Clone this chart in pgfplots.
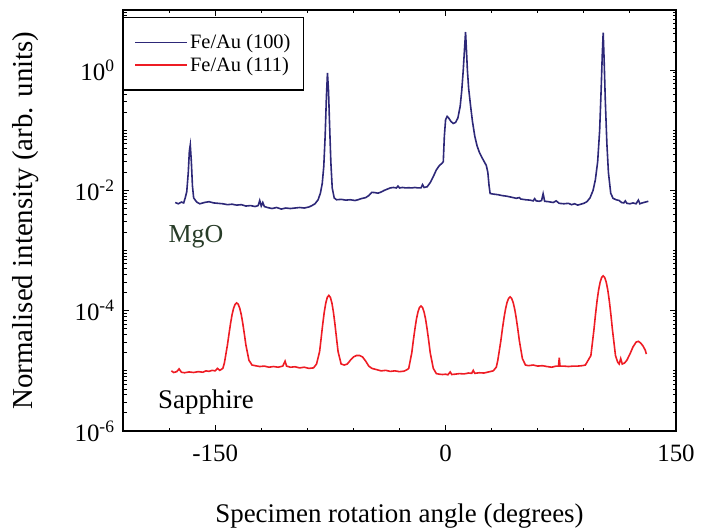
\documentclass[border=0pt]{standalone}
\usepackage{fontspec}
\setmainfont{Liberation Serif}
\usepackage{pgfplots}
\pgfplotsset{compat=1.18}
\definecolor{navyline}{RGB}{45,40,120}
\definecolor{redline}{RGB}{238,28,36}
\definecolor{mgogreen}{RGB}{40,60,40}

\begin{document}
\begin{tikzpicture}
\useasboundingbox (0,0) rectangle (716bp,531bp);
\begin{axis}[
  at={(123bp,100bp)}, anchor=south west,
  width=553bp, height=421bp, scale only axis,
  xmin=-210, xmax=150, ymin=1e-6, ymax=10, ymode=log,
  xtick={-150,0,150}, xticklabels={-150,0,150},
  minor xtick={-180,-120,-90,-60,-30,30,60,90,120},
  ytick={1e-6,1e-4,1e-2,1},
  yticklabels={10\textsuperscript{-6},10\textsuperscript{-4},10\textsuperscript{-2},10\textsuperscript{0}},
  minor ytick={2e-6,3e-6,4e-6,5e-6,6e-6,7e-6,8e-6,9e-6,1e-5,2e-5,3e-5,4e-5,5e-5,6e-5,7e-5,8e-5,9e-5,
    2e-4,3e-4,4e-4,5e-4,6e-4,7e-4,8e-4,9e-4,1e-3,2e-3,3e-3,4e-3,5e-3,6e-3,7e-3,8e-3,9e-3,
    2e-2,3e-2,4e-2,5e-2,6e-2,7e-2,8e-2,9e-2,1e-1,2e-1,3e-1,4e-1,5e-1,6e-1,7e-1,8e-1,9e-1,
    2,3,4,5,6,7,8,9},
  tick label style={font=\fontsize{25}{30}\selectfont},
  xticklabel style={yshift=-10bp},
  yticklabel style={xshift=-5bp},
  major tick length=6bp, minor tick length=3.5bp,
  tick style={line width=0.9bp, black},
  axis line style={line width=1.5bp},
  xlabel={Specimen rotation angle (degrees)},
  ylabel={Normalised intensity (arb. units)},
  xlabel style={font=\fontsize{27}{32}\selectfont, at={(axis description cs:0.5,0)}, anchor=center, yshift=-85bp},
  ylabel style={font=\fontsize{29}{34}\selectfont, at={(axis description cs:-0.177,0.5)}, anchor=center},
  legend style={at={(0,0.983)}, anchor=north west, draw=black, line width=1.2bp,
    font=\fontsize{20.5}{24}\selectfont, inner xsep=11bp, inner ysep=15bp, row sep=3bp,
    cells={anchor=west}},
  legend image code/.code={\draw[#1, line width=1.5bp] (0bp,0.3bp) -- (52bp,0.3bp);},
  /tikz/every even column/.append style={column sep=11bp},
]
\addplot[navyline, line width=1.6bp] coordinates {
(-176,6.3e-3) (-174,6.0e-3) (-172,6.4e-3) (-170.5,6.2e-3) (-169.5,7.5e-3) (-168.5,9.5e-3) (-167.5,2.0e-2) (-166.8,4.5e-2) (-166.2,5.7e-2) (-165.5,3.0e-2) (-164.8,1.2e-2) (-164,7.5e-3) (-162,6.4e-3) (-160,6.0e-3) (-157,6.3e-3) (-154,6.5e-3) (-151,6.2e-3) (-148,6.1e-3) (-145,6.0e-3) (-142,5.8e-3) (-139,5.9e-3) (-136,5.7e-3) (-133,5.8e-3) (-130,5.5e-3) (-127,5.6e-3) (-124,5.4e-3) (-122,5.6e-3) (-121,6.8e-3) (-120,5.5e-3) (-119,6.3e-3) (-118,5.4e-3) (-116,5.2e-3) (-113,5.0e-3) (-110,5.2e-3) (-107,4.9e-3) (-104,5.1e-3) (-101,5.0e-3) (-98,5.1e-3) (-95,5.2e-3) (-92,5.1e-3) (-89,5.3e-3) (-87,5.6e-3) (-85,6.0e-3) (-83,7.0e-3) (-81.5,9e-3) (-80.3,1.3e-2) (-79.3,2.5e-2) (-78.4,8e-2) (-77.6,0.35) (-76.9,0.9) (-76.2,0.45) (-75.5,0.12) (-74.7,0.03) (-73.8,1.1e-2) (-72.5,7.5e-3) (-71,7.0e-3) (-68,7.1e-3) (-65,6.9e-3) (-62,7.0e-3) (-59,6.8e-3) (-57,7.0e-3) (-55,7.3e-3) (-52,7.6e-3) (-50,8.2e-3) (-48,9.3e-3) (-46,9.2e-3) (-44,9.0e-3) (-42,9.4e-3) (-40,1.0e-2) (-38,1.05e-2) (-36,1.1e-2) (-34,1.12e-2) (-32,1.1e-2) (-31,1.18e-2) (-30,1.1e-2) (-28,1.12e-2) (-26,1.1e-2) (-24,1.11e-2) (-22,1.1e-2) (-20,1.12e-2) (-18,1.1e-2) (-16,1.1e-2) (-15,1.25e-2) (-14,1.12e-2) (-12,1.15e-2) (-10,1.35e-2) (-8,1.7e-2) (-6,2.2e-2) (-4,2.6e-2) (-2.5,2.8e-2) (-1.5,3.0e-2) (-0.8,0.08) (0,0.15) (1,0.17) (2,0.16) (3.5,0.14) (5,0.13) (6.5,0.135) (8,0.16) (9.5,0.25) (10.5,0.45) (11.5,1.0) (12.3,2.2) (13,4.3) (13.5,2.4) (14.2,1.0) (15,0.5) (16.3,0.25) (17.5,0.14) (19,0.08) (20.5,0.055) (22,0.043) (24,0.034) (25.5,0.029) (26.5,0.026) (27.5,0.02) (28.3,0.012) (29,8.9e-3) (31,8.7e-3) (34,8.5e-3) (37,8.2e-3) (40,8.0e-3) (43,7.7e-3) (46,7.4e-3) (48,7.6e-3) (49,7.2e-3) (52,7.0e-3) (55,6.9e-3) (57,6.7e-3) (58,7.3e-3) (59,6.7e-3) (61,6.6e-3) (62.5,6.8e-3) (63.5,8.8e-3) (64.5,6.6e-3) (67,6.5e-3) (70,6.3e-3) (72,6.7e-3) (74,6.1e-3) (77,6.0e-3) (80,6.1e-3) (82,5.8e-3) (84,6.0e-3) (86,5.7e-3) (88,5.9e-3) (90,6.1e-3) (92,6.5e-3) (94,7.5e-3) (96,1.0e-2) (97.5,1.5e-2) (99,3e-2) (100.3,0.1) (101.3,0.5) (102,1.8) (102.6,4.2) (103.2,1.5) (104,0.3) (105,0.06) (106,0.02) (107.5,9e-3) (109,7.4e-3) (111,7.0e-3) (113,6.8e-3) (114.5,6.3e-3) (116,6.2e-3) (117,6.7e-3) (118,6.1e-3) (120,6.0e-3) (122,6.2e-3) (124,6.0e-3) (125.5,6.9e-3) (126.5,6.0e-3) (128,6.2e-3) (130,6.4e-3) (132,6.6e-3)
};
\addlegendentry{Fe/Au (100)}
\addplot[redline, line width=1.6bp] coordinates {
(-178.5,1.0e-5) (-177,9.4e-6) (-175,9.7e-6) (-173.5,1.08e-5) (-172,9.5e-6) (-170,9.3e-6) (-167,9.6e-6) (-164,9.4e-6) (-161,9.7e-6) (-158,9.5e-6) (-156,1.0e-5) (-154,9.8e-6) (-152,1.02e-5) (-150,1.0e-5) (-148.5,1.1e-5) (-147,1.02e-5) (-145,1.1e-5) (-144,1.35e-5) (-142,2.7e-5) (-141,4.1e-5) (-140,6.1e-5) (-139,8.6e-5) (-138,1.1e-4) (-137,1.28e-4) (-136,1.35e-4) (-135,1.28e-4) (-134,1.1e-4) (-133,8.6e-5) (-132,6.1e-5) (-131,4.1e-5) (-130,2.7e-5) (-128,1.5e-5) (-126,1.25e-5) (-124,1.22e-5) (-121,1.18e-5) (-118,1.2e-5) (-115,1.15e-5) (-112,1.18e-5) (-109,1.15e-5) (-106,1.2e-5) (-104.5,1.45e-5) (-103.5,1.2e-5) (-101,1.15e-5) (-98,1.17e-5) (-95,1.12e-5) (-92,1.15e-5) (-89,1.1e-5) (-86,1.12e-5) (-84,1.3e-5) (-82,2.1e-5) (-81,3.5e-5) (-80,5.9e-5) (-79,9.4e-5) (-78,1.34e-4) (-77,1.67e-4) (-76,1.8e-4) (-75,1.67e-4) (-74,1.34e-4) (-73,9.4e-5) (-72,5.9e-5) (-71,3.5e-5) (-70,2.1e-5) (-68,1.3e-5) (-66,1.25e-5) (-64,1.3e-5) (-62,1.5e-5) (-60,1.7e-5) (-58,1.8e-5) (-56,1.8e-5) (-54,1.7e-5) (-52,1.45e-5) (-50,1.2e-5) (-48,1.1e-5) (-45,1.05e-5) (-42,1.0e-5) (-39,1.02e-5) (-36,9.8e-6) (-33,1.0e-5) (-30,9.7e-6) (-27,9.9e-6) (-25,1.05e-5) (-24,1.1e-5) (-22,2.0e-5) (-21,3.2e-5) (-20,4.9e-5) (-19,7.2e-5) (-18,9.5e-5) (-17,1.13e-4) (-16,1.2e-4) (-15,1.13e-4) (-14,9.5e-5) (-13,7.2e-5) (-12,4.9e-5) (-11,3.2e-5) (-10,2.0e-5) (-8,1.1e-5) (-6,9e-6) (-4,8.8e-6) (-2,8.7e-6) (0,8.8e-6) (1.5,8.6e-6) (3,9.6e-6) (4,8.7e-6) (6,8.8e-6) (9,9.0e-6) (12,8.9e-6) (15,9.2e-6) (17,9.1e-6) (18,1.02e-5) (19,9.1e-6) (22,9.3e-6) (25,9.2e-6) (28,9.6e-6) (31,1.0e-5) (33,1.15e-5) (34,1.5e-5) (36,3.2e-5) (37,5e-5) (38,7.5e-5) (39,1.06e-4) (40,1.37e-4) (41,1.6e-4) (42,1.7e-4) (43,1.6e-4) (44,1.37e-4) (45,1.06e-4) (46,7.5e-5) (47,5e-5) (48,3.2e-5) (50,1.6e-5) (52,1.25e-5) (54,1.22e-5) (57,1.25e-5) (60,1.2e-5) (63,1.22e-5) (66,1.18e-5) (69,1.15e-5) (72,1.2e-5) (73.5,1.2e-5) (74,1.65e-5) (74.5,1.2e-5) (77,1.2e-5) (80,1.18e-5) (83,1.2e-5) (86,1.2e-5) (89,1.22e-5) (91,1.25e-5) (94.6,1.8e-5) (96.6,4.9e-5) (97.6,8.7e-5) (98.6,1.45e-4) (99.6,2.2e-4) (100.6,2.97e-4) (101.6,3.57e-4) (102.6,3.8e-4) (103.6,3.57e-4) (104.6,2.97e-4) (105.6,2.2e-4) (106.6,1.45e-4) (107.6,8.7e-5) (108.6,4.9e-5) (110.6,1.8e-5) (112,1.4e-5) (113,1.3e-5) (114,1.6e-5) (115,1.3e-5) (116.5,1.35e-5) (118,1.5e-5) (120,1.9e-5) (122,2.5e-5) (124,3.0e-5) (125.5,3.1e-5) (127,2.9e-5) (128.5,2.6e-5) (130,2.2e-5) (130.7,1.9e-5)
};
\addlegendentry{Fe/Au (111)}
\end{axis}
\node[text=mgogreen, font=\fontsize{26}{30}\selectfont] at (196bp,294bp) {MgO};
\node[font=\fontsize{27}{32}\selectfont] at (206bp,129bp) {Sapphire};
\end{tikzpicture}
\end{document}
